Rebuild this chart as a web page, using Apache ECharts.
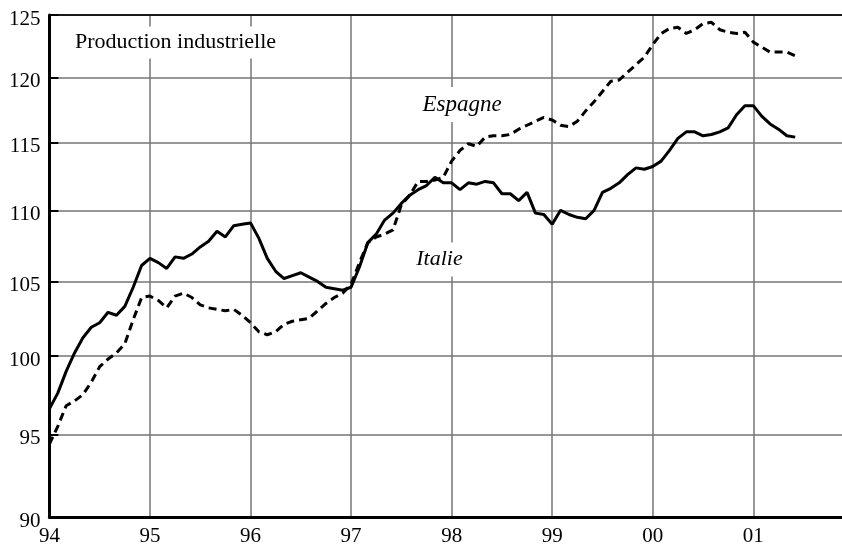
<!DOCTYPE html>
<html>
<head>
<meta charset="utf-8">
<script src="https://cdn.jsdelivr.net/npm/echarts@6/dist/echarts.min.js"></script>
<style>
  html, body { margin: 0; padding: 0; background: #fff; }
  #main { width: 842px; height: 546px; }
</style>
</head>
<body>
<div id="main"></div>
<script>
// production industrielle, indices mensuels, janvier 94 -> juin 01
var startYear = 94
var yearTicks = [94, 95, 96, 97, 98, 99, 100, 101]
var valueTicks = [90, 95, 100, 105, 110, 115, 120, 125]

var italie = [
  96.6, 97.6, 99.0, 100.2, 101.2, 101.9, 102.2, 102.9, 102.7, 103.3, 104.6, 106.1,
  106.6, 106.3, 105.9, 106.7, 106.6, 106.9, 107.4, 107.8, 108.5, 108.1, 108.9, 109.0,
  109.1, 108.0, 106.6, 105.7, 105.2, 105.4, 105.6, 105.3, 105.0, 104.6, 104.5, 104.4,
  104.6, 106.0, 107.7, 108.3, 109.3, 109.8, 110.5, 111.1, 111.5, 111.8, 112.4, 112.0,
  112.0, 111.5, 112.0, 111.9, 112.1, 112.0, 111.2, 111.2, 110.7, 111.3, 109.8, 109.7,
  109.0, 110.0, 109.7, 109.5, 109.4, 110.0, 111.3, 111.6, 112.0, 112.6, 113.1, 113.0,
  113.2, 113.6, 114.4, 115.3, 115.8, 115.8, 115.5, 115.6, 115.8, 116.1, 117.1, 117.8,
  117.8, 117.0, 116.4, 116.0, 115.5, 115.4
]

var espagne = [
  94.4, 95.5, 96.8, 97.1, 97.5, 98.3, 99.3, 99.8, 100.2, 100.8, 102.4, 103.9,
  104.0, 103.7, 103.2, 104.0, 104.2, 103.9, 103.4, 103.2, 103.1, 103.0, 103.1, 102.7,
  102.2, 101.6, 101.4, 101.6, 102.1, 102.3, 102.4, 102.5, 103.0, 103.5, 103.9, 104.2,
  104.8, 106.3, 107.7, 108.1, 108.3, 108.6, 110.4, 111.1, 112.1, 112.1, 112.2, 112.4,
  113.6, 114.4, 114.9, 114.7, 115.4, 115.5, 115.5, 115.6, 116.0, 116.3, 116.6, 116.9,
  116.7, 116.3, 116.2, 116.6, 117.4, 118.1, 118.9, 119.7, 119.8, 120.4, 121.0, 121.6,
  122.6, 123.5, 123.9, 124.0, 123.5, 123.8, 124.3, 124.4, 123.8, 123.6, 123.5, 123.6,
  122.8, 122.4, 122.0, 122.0, 122.0, 121.7
]

// un point par mois
function toPoints(values) {
  return values.map(function (v, i) { return [startYear + i / 12, v] })
}

var serif = '"Liberation Serif", "Times New Roman", serif'
var gridGray = '#767676'
var xMin = 94
var xMax = 101.882

var chart = echarts.init(document.getElementById('main'))
chart.setOption({
  animation: false,
  backgroundColor: '#fff',
  grid: { left: 49.4, right: 0, top: 15, bottom: 29, outerBoundsMode: 'none' },
  xAxis: [
    {
      type: 'value',
      min: xMin,
      max: xMax,
      axisLine: { show: true, lineStyle: { color: '#000', width: 3 } },
      axisTick: { show: false, customValues: yearTicks },
      axisLabel: {
        customValues: yearTicks,
        color: '#000',
        fontFamily: serif,
        fontSize: 21,
        margin: 9,
        formatter: function (v) {
          return String(Math.round(v) % 100).padStart(2, '0')
        }
      },
      splitLine: { show: true, lineStyle: { color: gridGray, width: 1.5 } }
    },
    {
      // bord supérieur
      type: 'value',
      position: 'top',
      min: xMin,
      max: xMax,
      axisLine: { show: true, onZero: false, lineStyle: { color: '#1a1a1a', width: 2 } },
      axisTick: { show: false },
      axisLabel: { show: false },
      splitLine: { show: false }
    }
  ],
  yAxis: {
    type: 'log',
    logBase: 10,
    min: 90,
    max: 125,
    axisLine: { show: true, onZero: false, lineStyle: { color: '#000', width: 3 } },
    axisTick: {
      show: true,
      inside: true,
      length: 9,
      customValues: valueTicks,
      lineStyle: { color: '#000', width: 2 }
    },
    axisLabel: {
      customValues: valueTicks,
      color: '#000',
      fontFamily: serif,
      fontSize: 21,
      margin: 9,
      // libellés un peu sous la ligne, comme l'original
      formatter: function (v) { return '{v|' + Math.round(v) + '}' },
      rich: {
        v: { fontFamily: serif, fontSize: 21, color: '#000', padding: [8, 0, 0, 0] }
      }
    },
    splitLine: { show: true, lineStyle: { color: gridGray, width: 1.5 } }
  },
  series: [
    {
      name: 'Espagne',
      type: 'line',
      data: toPoints(espagne),
      showSymbol: false,
      symbol: 'none',
      lineStyle: { color: '#000', width: 3, type: [8, 5] },
      z: 3
    },
    {
      name: 'Italie',
      type: 'line',
      data: toPoints(italie),
      showSymbol: false,
      symbol: 'none',
      lineStyle: { color: '#000', width: 3 },
      z: 4
    }
  ],
  graphic: [
    {
      type: 'text',
      x: 175.5,
      y: 42.6,
      z: 10,
      style: {
        text: 'Production industrielle',
        font: '22px ' + serif,
        fill: '#000',
        align: 'center',
        verticalAlign: 'middle',
        backgroundColor: '#fff',
        padding: [5, 8]
      }
    },
    {
      type: 'text',
      x: 462,
      y: 104.6,
      z: 10,
      style: {
        text: 'Espagne',
        font: 'italic 23px ' + serif,
        fill: '#000',
        align: 'center',
        verticalAlign: 'middle',
        backgroundColor: '#fff',
        padding: [6, 6]
      }
    },
    {
      type: 'text',
      x: 439.5,
      y: 259.6,
      z: 10,
      style: {
        text: 'Italie',
        font: 'italic 22px ' + serif,
        fill: '#000',
        align: 'center',
        verticalAlign: 'middle',
        backgroundColor: '#fff',
        padding: [6, 6]
      }
    }
  ]
})
</script>
</body>
</html>
